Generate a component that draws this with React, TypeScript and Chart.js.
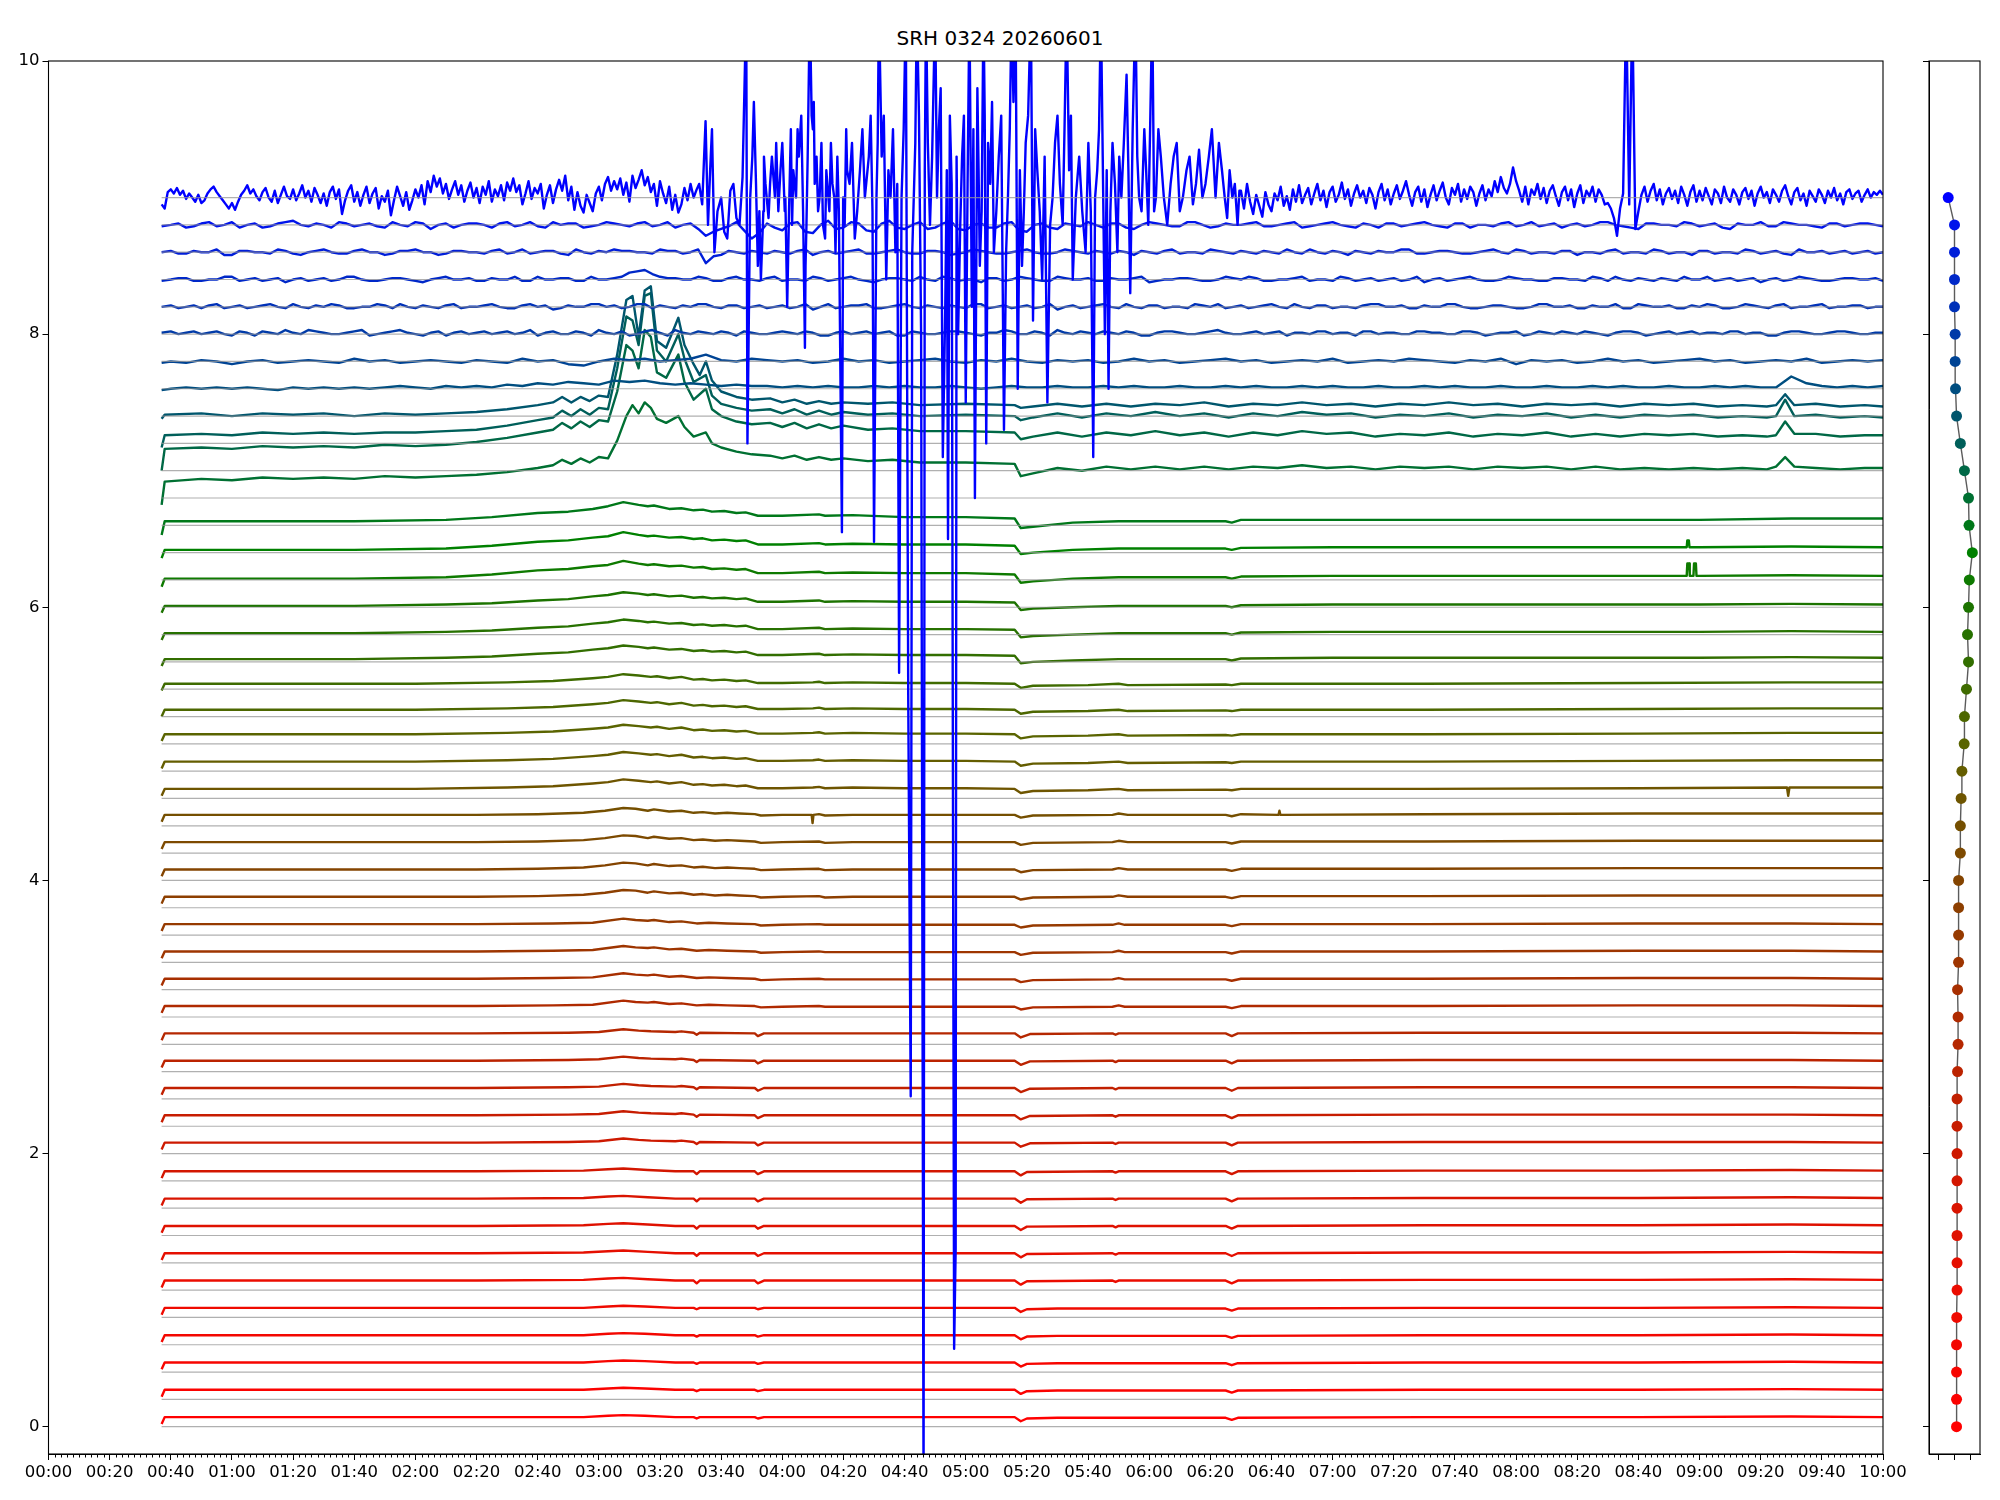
import React, { useEffect, useRef } from 'react';
import { Chart, registerables } from 'chart.js';

Chart.register(...registerables);

const TITLE = 'SRH 0324 20260601';
const X_TICKS = [0, 20, 40, 60, 80, 100, 120, 140, 160, 180, 200, 220, 240, 260, 280, 300, 320, 340, 360, 380, 400, 420, 440, 460, 480, 500, 520, 540, 560, 580, 600];
const Y_TICKS = [0, 2, 4, 6, 8, 10];
const SIDE_X_TICKS = [-0.64, 0, 0.64];
const START_T = 37;
const END_T = 600;

// trace baselines (one per channel, also the y of the dots in the side panel)
const BASELINES = [0, 0.2, 0.4, 0.6, 0.8, 1.0, 1.2, 1.4, 1.6, 1.8, 2.0, 2.2, 2.4, 2.6, 2.8, 3.0, 3.2, 3.4, 3.6, 3.8, 4.0, 4.2, 4.4, 4.6, 4.8, 5.0, 5.2, 5.4, 5.6, 5.8, 6.0, 6.2, 6.4, 6.6, 6.8, 7.0, 7.2, 7.4, 7.6, 7.8, 8.0, 8.2, 8.4, 8.6, 8.8, 9.0];
// x of the dots in the side panel
const SIDE_X = [0.08, 0.08, 0.08, 0.08, 0.09, 0.1, 0.1, 0.1, 0.1, 0.1, 0.1, 0.1, 0.1, 0.12, 0.14, 0.14, 0.12, 0.16, 0.16, 0.16, 0.16, 0.23, 0.23, 0.26, 0.29, 0.38, 0.39, 0.47, 0.55, 0.51, 0.55, 0.58, 0.7, 0.57, 0.55, 0.39, 0.23, 0.08, 0.04, 0.026, 0.026, 0, 0, 0, 0, -0.247];
// level of each trace above its baseline (hundredths)
const LEVELS = [7, 7, 7, 7, 7, 7, 7, 7, 7, 7, 8, 8, 8, 8, 8, 8, 8, 8, 8, 8, 8, 8, 8, 7, 7, 7, 5, 4, 2, 1, 1, 1, 2, 3, 0, 0, 0, 0, 0, 0, 0, 0, 0, 0, 0, 0];

// shapes as [minute, offset(hundredths)] pairs
const G_R1 = [37, -5, 38, 0, 70, 0, 110, 0, 150, 0, 175, 0, 183, 1, 188, 1.5, 195, 1, 205, 0, 211, 0, 212, -1, 213, 0, 231, 0, 232, -1, 234, 0, 260, 0, 300, 0, 316, 0, 318, -3, 320, -1, 330, -0.5, 385, -0.5, 387, -2, 389, -0.5, 450, 0, 520, 0, 570, 0.5, 600, 0];
const G_R2 = [37, -5, 38, 0, 80, 0, 140, 0, 175, 0.5, 183, 1.5, 188, 2, 196, 1, 205, 0, 211, 0, 212, -2, 213, 0, 231, 0, 232, -2, 234, 0, 270, 0, 300, 0, 316, 0, 318, -3, 320, -0.5, 348, 0, 349, -1, 350, 0, 385, 0, 387, -2, 389, 0, 450, 0.5, 520, 0.5, 570, 1, 600, 0.5];
const G_R3 = [37, -5, 38, 0, 80, 0, 140, 0, 170, 0.5, 180, 1, 188, 3, 193, 2, 197, 1.5, 205, 1, 207, 1.5, 211, 0.5, 212, -1, 213, 0.5, 231, 0, 232, -2, 234, 0, 250, 0, 300, 0, 316, 0, 318, -3, 321, -0.5, 348, 0, 349, -1, 350, 0, 385, 0, 387, -2, 389, 0, 450, 0.5, 520, 0.5, 570, 0.5, 600, 0];
const G_B1 = [37, -5, 38, 0, 80, 0, 140, 0, 165, 0.5, 178, 1, 188, 4, 192, 3, 196, 2.5, 198, 3, 203, 1.5, 207, 2, 212, 0.5, 216, 1, 222, 0.5, 231, 0, 233, -1, 240, -0.5, 252, 0, 254, -0.5, 280, -0.5, 316, -0.5, 318, -2.5, 322, -1, 348, -0.5, 350, 0.5, 352, -0.5, 385, -0.5, 387, -1.5, 390, 0, 450, 0, 520, 0.5, 570, 0.5, 600, 0];
const G_B2 = [37, -5, 38, 0, 80, 0, 140, 0, 160, 0.5, 175, 1.5, 182, 3, 188, 5, 192, 4.5, 196, 3, 198, 4, 203, 2.5, 207, 3, 211, 1.5, 214, 2, 218, 1, 222, 1.5, 226, 1, 231, 0.5, 233, -0.5, 240, 0, 252, 0.5, 254, -0.5, 263, 0, 280, 0, 316, 0, 318, -2, 322, -0.5, 348, 0, 350, 1, 353, 0, 385, 0, 387, -1, 390, 0.5, 450, 0.5, 520, 1, 570, 1, 600, 1];
const G_O = [37, -5, 38, 0, 70, 0, 120, 0, 150, 1, 165, 2, 178, 4, 183, 5, 188, 7, 193, 6, 197, 5, 199, 5.5, 203, 4, 207, 5, 211, 3, 214, 3.5, 217, 2.5, 221, 3, 225, 2, 228, 2.5, 232, 0.5, 240, 0.5, 250, 1, 252, 1.5, 254, 0.5, 263, 1, 280, 0.5, 300, 0.5, 316, 0, 318, -3, 322, -1.5, 340, -1, 350, 0, 353, -1, 385, -0.5, 387, -1, 390, 0, 450, 0, 520, 0.5, 570, 1, 600, 1];
const G_G1 = [37, -5, 38, 0, 60, 0, 100, 0, 130, 1, 145, 2, 160, 4, 170, 5, 178, 7, 183, 8, 188, 10, 193, 9, 196, 8, 198, 8.5, 203, 7, 207, 7.5, 211, 6, 214, 6.5, 217, 5.5, 221, 6, 225, 5, 228, 5.5, 232, 3, 240, 3, 252, 4, 254, 3, 263, 3.5, 280, 3, 300, 3, 316, 2.5, 318, -3, 322, -2, 335, -1, 350, 0, 385, 0, 387, -1, 390, 0.5, 420, 1, 480, 1, 540, 1, 570, 1.5, 600, 1];
const G_G2 = [37, -6, 38, 0, 60, 0, 100, 0, 130, 1, 145, 3, 160, 6, 170, 7, 178, 9, 183, 10, 188, 13, 193, 11, 196, 10, 198, 10.5, 203, 9, 207, 9.5, 211, 8, 214, 8.5, 217, 7, 221, 7.5, 225, 6.5, 228, 7, 232, 4, 240, 4, 252, 5, 254, 4, 263, 4.5, 280, 4, 300, 4, 316, 3, 318, -3, 322, -2, 335, 0, 350, 1, 385, 1, 387, 0, 390, 1.5, 420, 2, 480, 2, 540, 2, 570, 2.5, 600, 2];
const G_66 = [37, -10, 38, 0, 60, 0, 100, 0, 130, 1, 145, 3, 160, 6, 170, 7, 178, 9, 183, 11, 188, 14, 193, 12, 196, 11, 198, 11.5, 203, 9, 207, 9.5, 211, 8, 214, 8.5, 217, 7, 221, 7.5, 225, 6, 228, 6.5, 232, 4, 240, 4, 252, 5, 254, 4, 263, 4.5, 280, 3, 300, 3, 316, 2, 318, -5, 322, -4, 335, -1, 350, 0, 385, 0, 387, -1, 390, 1, 420, 1, 480, 1, 540, 1, 570, 2, 600, 2];
const C68 = [37, -5, 38, 12, 50, 14, 60, 13, 70, 15, 80, 14, 90, 15, 100, 14, 110, 16, 120, 15, 130, 16, 140, 17, 150, 19, 160, 22, 165, 24, 168, 28, 171, 25, 174, 29, 177, 26, 180, 30, 183, 29, 186, 42, 189, 60, 191, 68, 193, 62, 195, 70, 197, 66, 199, 58, 202, 55, 206, 60, 208, 52, 211, 45, 215, 48, 217, 40, 220, 37, 225, 34, 230, 32, 236, 31, 240, 29, 244, 31, 248, 28, 252, 30, 256, 28, 260, 29, 268, 27, 276, 28, 285, 26, 300, 26, 316, 25, 318, 16, 322, 18, 330, 22, 338, 20, 346, 23, 354, 21, 362, 23, 370, 21, 378, 23, 386, 21, 394, 23, 402, 22, 410, 24, 418, 22, 426, 23, 434, 21, 442, 23, 450, 22, 458, 23, 466, 21, 474, 23, 482, 22, 490, 23, 498, 21, 506, 23, 514, 21, 522, 22, 530, 21, 538, 22, 546, 21, 554, 22, 562, 21, 565, 23, 568, 30, 571, 23, 578, 22, 586, 21, 594, 22, 600, 22];
const C70 = [37, 0, 38, 16, 50, 17, 60, 16, 70, 18, 80, 17, 90, 18, 100, 17, 110, 19, 120, 18, 130, 19, 140, 21, 150, 24, 160, 28, 165, 30, 168, 35, 171, 31, 174, 36, 177, 32, 180, 37, 183, 36, 186, 58, 189, 92, 191, 88, 193, 75, 195, 103, 197, 98, 199, 72, 202, 68, 206, 85, 208, 65, 211, 52, 215, 60, 217, 45, 220, 40, 225, 36, 230, 34, 236, 35, 240, 32, 244, 35, 248, 31, 252, 34, 256, 31, 260, 33, 268, 30, 276, 31, 285, 29, 300, 29, 316, 28, 318, 23, 322, 25, 330, 28, 338, 25, 346, 28, 354, 26, 362, 29, 370, 26, 378, 28, 386, 25, 394, 28, 402, 26, 410, 29, 418, 27, 426, 28, 434, 25, 442, 27, 450, 26, 458, 28, 466, 25, 474, 27, 482, 26, 490, 28, 498, 25, 506, 27, 514, 25, 522, 27, 530, 26, 538, 27, 546, 25, 554, 26, 562, 25, 565, 26, 568, 36, 571, 27, 578, 27, 586, 25, 594, 26, 600, 26];
const C72 = [37, -3, 38, 6, 50, 7, 60, 6, 70, 8, 80, 7, 90, 8, 100, 7, 110, 8, 120, 8, 130, 9, 140, 10, 150, 13, 160, 17, 165, 19, 168, 24, 171, 20, 174, 25, 177, 21, 180, 26, 183, 25, 186, 55, 189, 93, 191, 90, 193, 72, 195, 108, 197, 110, 199, 68, 202, 60, 206, 80, 208, 62, 211, 45, 215, 50, 217, 35, 220, 29, 225, 26, 230, 24, 236, 25, 240, 22, 244, 25, 248, 21, 252, 24, 256, 21, 260, 23, 268, 21, 276, 22, 285, 20, 300, 21, 316, 20, 318, 17, 322, 19, 330, 22, 338, 19, 346, 22, 354, 20, 362, 23, 370, 20, 378, 22, 386, 19, 394, 22, 402, 20, 410, 23, 418, 21, 426, 22, 434, 19, 442, 21, 450, 20, 458, 22, 466, 19, 474, 21, 482, 20, 490, 22, 498, 19, 506, 21, 514, 19, 522, 21, 530, 20, 538, 21, 546, 19, 554, 20, 562, 19, 565, 20, 568, 32, 571, 20, 578, 21, 586, 19, 594, 20, 600, 19];
const C74 = [37, -2, 38, 1, 50, 2, 60, 0, 70, 2, 80, 1, 90, 2, 100, 0, 110, 2, 120, 1, 130, 2, 140, 3, 150, 5, 160, 8, 165, 10, 168, 14, 171, 10, 174, 14, 177, 11, 180, 15, 183, 14, 186, 45, 189, 85, 191, 88, 193, 58, 195, 92, 197, 95, 199, 55, 202, 50, 206, 72, 208, 52, 211, 38, 213, 30, 215, 40, 217, 26, 220, 18, 225, 14, 230, 12, 236, 13, 240, 10, 244, 12, 248, 9, 252, 11, 256, 9, 260, 10, 268, 9, 276, 10, 285, 8, 300, 9, 316, 8, 318, 6, 322, 7, 330, 9, 338, 7, 346, 9, 354, 7, 362, 9, 370, 8, 378, 10, 386, 7, 394, 9, 402, 8, 410, 10, 418, 8, 426, 9, 434, 7, 442, 9, 450, 8, 458, 10, 466, 8, 474, 9, 482, 7, 490, 9, 498, 8, 506, 9, 514, 7, 522, 9, 530, 8, 538, 9, 546, 7, 554, 8, 562, 7, 565, 8, 568, 16, 571, 8, 578, 9, 586, 7, 594, 8, 600, 7];

// small glitches on single channels [minute, offset]
const GLITCH_44 = [249.6, 0, 249.9, -6, 250.2, 0, 402.3, 0, 402.6, 3, 402.9, 0];
const GLITCH_46 = [568.6, 1, 569, -5, 569.4, 1];
const GLITCH_62 = [535.8, 2, 536, 11, 536.6, 11, 536.8, 2, 538, 2, 538.2, 11, 538.8, 11, 539, 2];
const GLITCH_64 = [535.8, 2, 536, 7, 536.5, 7, 536.7, 2];

// noisy channels sampled every 5 minutes from 00:40 (hundredths above baseline)
const N76 = [0, 1, 0, 1, 0, 1, 0, -1, 1, 0, 1, 0, 1, 0, 1, 2, 1, 0, 2, 1, 2, 1, 3, 2, 4, 3, 5, 4, 3, 6, 5, 6, 4, 3, 4, 3, 2, 3, 2, 2, 1, 2, 1, 2, 1, 1, 2, 1, 2, 1, 1, 2, 1, 0, 1, 2, 1, 1, 2, 1, 1, 2, 1, 2, 1, 1, 2, 1, 1, 2, 1, 2, 1, 1, 2, 1, 2, 1, 1, 2, 1, 1, 2, 1, 2, 1, 1, 2, 1, 1, 2, 1, 1, 2, 1, 2, 1, 1, 2, 1, 1, 2, 1, 2, 1, 1, 9, 4, 2, 1, 2, 1, 2];
const N78 = [0, -1, 1, 0, -2, 0, 1, -1, 0, 1, 0, -1, 2, 0, 1, -1, 0, 1, 0, -1, 1, 0, -1, 2, 0, 1, -2, -3, 0, 2, 1, 2, 0, 1, 2, 5, 1, 0, 2, 1, 0, 1, -1, 0, 2, 0, 1, -1, 0, 1, 2, 0, -1, 1, 0, 2, 0, -1, 1, 0, 1, -1, 0, 2, 0, 1, -1, 0, 1, 2, 0, 1, -1, 0, 1, 0, 2, -1, 0, 1, 0, 2, 1, 0, -1, 1, 0, 2, -2, 1, 0, 1, -1, 0, 2, 0, 1, -1, 0, 1, 2, 0, 1, -1, 0, 1, 0, 2, -1, 0, 1, 0, 1];
const N80 = [2, 1, 0, 2, -1, 1, 2, 0, 1, 3, 1, 0, 2, -1, 1, 3, 0, 1, -1, 2, 1, 0, 2, 1, -1, 2, 0, 1, 3, 0, -1, 2, 1, 3, 0, 1, 2, -1, 1, 0, 2, 0, 1, -1, 2, 1, 0, 2, -1, 1, 0, 2, 1, -1, 1, 2, 0, 1, 3, 0, 1, 2, 0, 1, -1, 2, 1, 0, 2, 1, 0, 2, 1, -1, 1, 2, 0, 1, 2, 0, 1, 0, 2, 1, 0, 2, -1, 1, 2, 0, 1, 2, 0, 1, -1, 2, 1, 0, 2, 1, 0, 1, 2, 0, 1, -1, 2, 1, 0, 2, 1, 0, 1];
const N82 = [1, 0, -1, 2, 0, -1, 1, 0, 2, -1, 0, 1, -1, 0, 1, 2, -1, 0, 1, -1, 0, 2, -1, 1, 0, -2, 1, 0, 2, 1, 0, 2, 1, -1, 0, 2, -1, 1, 0, -1, 1, 0, -2, 2, 0, 1, -1, 0, 2, -1, 0, 1, -1, 2, 0, -1, 1, 0, -2, 1, 0, 2, -1, 0, 1, -1, 0, 2, 0, -1, 1, 0, 2, -1, 0, 1, -1, 0, 1, 2, 0, -1, 1, 0, 2, -1, 0, 1, -1, 0, 2, 0, -1, 1, 0, -1, 2, 0, 1, -1, 0, 1, -1, 2, 0, 1, -1, 0, 2, 0, 1, -1, 0];
const N84 = [0, 1, -1, 0, 2, 0, -1, 1, 0, -1, 1, 0, 2, -1, 0, 1, -1, 0, 2, 0, -1, 1, 0, -1, 2, 0, 1, -1, 0, 1, 5, 7, 2, 1, 0, 1, -1, 2, 0, 1, -1, 0, 2, -1, 1, 0, -2, 1, 0, 2, -1, 1, 0, -2, 1, 0, 1, -1, 2, 0, 1, -1, 0, 1, -2, 0, 1, 0, -1, 2, 0, 1, -1, 0, 2, 0, -1, 1, 0, -1, 1, 0, -2, 1, 0, 2, -1, 0, 1, 0, -1, 1, 0, 2, -1, 0, 1, -1, 0, 2, 0, -1, 1, 0, -2, 1, 0, 1, -1, 0, 1, 0, -1];
const N86 = [1, -1, 0, 2, -2, 1, 0, 2, -1, 0, 2, -1, 1, 0, -2, 1, 2, 0, -1, 1, 0, 1, -1, 2, 0, 1, -2, 0, 1, 2, 1, 0, 2, 1, 0, -8, -2, 0, 1, -1, 0, 1, -2, 1, 0, 2, -1, 1, 0, -1, 1, -2, 0, 1, -1, 0, 2, -1, 0, 1, -1, 0, 1, -2, 0, 1, -1, 0, 2, 0, 1, -1, 0, 2, -1, 0, 1, -2, 0, 1, 0, 2, -1, 1, 0, -1, 1, 0, 2, -1, 0, 1, -2, 0, 1, -1, 0, 2, -1, 0, 1, -1, 0, 2, -1, 1, -2, 0, 1, 0, -1, 1, 0];
const N88 = [0, -2, 1, -1, 2, 0, -2, 1, 3, -1, 0, 2, -1, 1, -2, 0, 2, -3, 1, 0, 1, -2, 2, 0, -1, 2, 1, -2, 0, 1, -1, 2, 0, -2, 1, -8, -3, 2, -10, 1, -4, 2, -6, 3, -2, 1, -5, 3, -3, 2, -2, 3, -4, 1, -2, 2, -5, 1, -3, 0, 2, -2, 1, -3, 2, 0, -1, 2, -2, 1, 0, 2, -1, 1, -2, 0, 2, -1, 1, -2, 1, 0, 2, -1, 1, -2, 0, 1, -1, 2, 0, -2, 1, 0, 2, -1, -3, 1, 0, 2, -1, 1, -3, 0, 2, -1, 1, 0, -2, 1, 0, 1, -1];
// the same channels in between, every 5 minutes from 00:42:30
const M80 = [0, 2, 1, 0, 2, -1, 1, 3, 0, 2, 0, 1, 3, 0, 2, 1, -1, 2, 1, 0, 2, 1, 0, 3, 1, 0, 2, -1, 1, 2, 0, 3, -1, 1, 2, 0, 1, 2, 0, 1, 1, 2, -1, 1, 0, 2, 1, -1, 2, 0, 1, 2, 0, 1, 3, 0, 2, -1, 1, 2, 0, 1, 2, -1, 1, 2, 0, 1, 3, 0, 1, 0, 2, 1, 0, 2, 1, -1, 2, 1, 0, 2, 1, 0, 2, 1, 0, 1, -1, 2, 0, 1, 2, 0, 1, 2, -1, 1, 0, 2, 1, 0, 2, 1, -1, 1, 2, 0, 1, 2, 0, 1];
const M82 = [-1, 1, 1, -1, 1, 0, 2, -1, 0, 1, 2, -1, 0, 2, -1, 0, 1, -1, 2, 0, 1, 0, -1, 2, 1, -1, 0, 2, 0, -1, 2, -1, 0, 1, 2, 0, 1, -1, 1, 0, -1, 2, 0, -1, 1, 2, -1, 1, 0, 1, -1, 0, 2, -1, 1, 0, -1, 2, 0, -1, 1, 0, 2, -1, 1, 0, -1, 1, 2, 0, -1, 1, 0, 2, -1, 1, 0, -1, 2, 0, 1, -1, 0, 2, 0, -1, 1, 0, -1, 2, 0, 1, -1, 0, 2, -1, 1, 0, -1, 1, 2, -1, 0, 1, -1, 2, 0, 1, -1, 0, 1, 0];
const M84 = [1, -1, 0, 2, -1, 1, 0, -2, 1, 0, -1, 2, 0, -1, 1, 0, -2, 1, 0, 1, -1, 0, 2, -1, 0, 1, -1, 2, 0, 2, 6, 4, 1, 0, 2, -1, 1, 0, -1, 2, 0, -1, 1, 0, 2, -1, 0, 1, -1, 0, 2, -1, 0, 1, -1, 2, 0, -1, 1, 0, -1, 1, 0, 2, -1, 0, 1, -1, 0, 1, 2, -1, 0, 1, -1, 0, 2, -1, 1, 0, -1, 2, 0, -1, 1, 0, -1, 2, 0, -1, 1, 0, -1, 1, 2, -1, 0, 1, -1, 0, 2, 0, -1, 1, 0, -1, 2, 0, -1, 1, 0, 1];
const M86 = [-1, 1, 0, -2, 1, 0, -1, 1, -2, 1, 0, -1, 2, 0, -1, 1, 0, -2, 1, 0, -1, 2, 0, -1, 1, -1, 2, -1, 0, 1, 0, -1, 1, -1, 2, -3, 1, -1, 0, 1, -1, 2, 0, -1, 1, -1, 0, 2, -1, 1, 0, -1, 2, 0, -1, 1, 0, -1, 2, 0, 1, -1, 0, 1, -1, 2, 0, -1, 1, -1, 0, 1, -1, 0, 2, -1, 0, 1, -1, 0, 2, -1, 0, 1, -1, 0, 2, -1, 1, 0, -1, 1, 0, -1, 2, 0, -1, 1, 0, -2, 1, 0, -1, 1, 0, -1, 2, 0, -1, 1, 0, -1];
const M88 = [1, -1, 2, 0, -2, 1, -1, 2, 0, 1, -2, 1, 0, -1, 2, -1, 1, 0, -2, 1, 0, 1, -1, 2, -2, 0, 1, -1, 2, 0, 1, -1, 2, 0, -3, -5, -1, -4, -6, -2, 1, -5, 0, -3, 2, -4, 1, -2, 0, -3, 1, -3, 0, -2, 1, -4, 0, -2, 1, -1, 0, 1, -2, 0, 1, -1, 2, 0, -1, 0, 1, -1, 0, 2, -1, 1, 0, -2, 0, 1, -1, 1, 0, -2, 1, 0, -1, 2, 0, -1, 1, 0, -1, 2, 0, -2, 1, 0, -1, 1, 0, -2, 1, 0, -1, 2, 0, -1, 1, -1, 1, 0];

// top channel: every minute 00:37..03:32 (hundredths around 9.0)
const TOP_CALM_A = [-5, -8, 4, 6, 3, 7, 2, 5, -1, 3, 0, -3, 2, -4, -2, 3, 6, 8, 4, 1, -2, -5, -8, -4, -9, -3, 2, 5, 9, 3, 6, 1, -2, 4, 7, 0, -3, 5, -4, 2, 8, 1, -1, 6, -2, 3, 9, 0, 5, -3, 7, 2, -4, 3, -6, 4, 8, -1, 6, -12, -2, 5, 9, -3, 4, -6, 2, 8, -4, 3, 7, -8, 1, -3, 5, -13, -2, 8, 1, -6, 4, -9, -2, 6, 0, 9, -5, 12, 4, 16, 8, 14, 3, 10, -1, 6, 12, 2, 9, -3, 5, 11, 0, 7, -4, 8, 2, 12, -3, 6, 1, 9, -2, 11, 5, 14, 4, 9, -5, 3, 12, -1, 7, 3, 10, -8, 2, 9, -4, 6, 13, 5, 16, -2, 8, -9, 4, -6, -11, 2, -4, -10, 3, 8, -2, 10, 15, 5, 12, 6, 14, 2, 11, -3, 16, 7, 13, 20, 9, 15, 4, 10, -6, 12, 3, -4, 8, -9, 2, -11, -5, 7, -2, 10, 0, 6];
// top channel in the burst, [minute, value]
const TOP_BURST = [
  212.8, 9.1, 213.8, 8.95, 214.9, 9.56, 215.7, 8.8, 216.4, 9.2, 217, 9.5, 217.8, 8.6, 218.8, 8.9, 220, 9.0, 221, 8.75, 222, 8.7, 223, 9.05, 224, 9.1, 225, 8.85, 226, 8.8, 227, 9.15, 228.2, 10.4, 228.6, 7.2, 229.5, 9.0, 230.7, 9.7, 231.4, 9.1, 232, 8.5, 233, 8.4, 233.8, 8.9, 234.5, 9.1, 235.5, 8.85, 236.6, 9.3, 237.6, 9.0, 238.7, 8.9, 239.4, 9.2, 240, 9.4, 240.8, 8.9, 241.6, 8.2, 242.2, 8.9, 242.8, 9.5, 243.6, 9.2, 244.5, 9.0, 245.4, 9.3, 246.2, 9.6, 246.8, 8.9, 247.4, 7.9, 247.9, 8.8, 248.3, 9.3, 249, 10.4, 249.6, 9.6, 250, 9.5, 250.6, 9.1, 251.2, 9.3, 252.2, 9.0, 253.3, 8.8, 254.4, 9.2, 255.4, 8.9, 256.4, 9.1, 257.4, 8.6, 258.5, 8.9, 259.5, 6.55, 260.4, 8.8, 261.2, 9.2, 262, 9.1, 263.7, 8.7, 265.4, 9.2, 267, 9.0, 268.3, 9.3, 270, 6.48, 270.8, 9.0, 271.6, 10.4, 272.5, 9.3, 274, 8.4, 275.4, 9.0, 277, 8.6, 278.2, 5.52, 279, 9.0, 280.4, 10.4, 281.2, 5.3, 282, 2.42, 283, 9.0, 284, 10.4, 285.4, 8.0, 286.2, -0.5, 287, 10.4, 288.3, 8.8, 290, 10.4, 291.2, 9.5, 292.5, 7.1, 293.3, 8.2, 294.2, 6.5, 295.4, 9.1, 296.2, 0.57, 296.7, 1.3, 297.5, 8.0, 298.8, 9.3, 300, 7.5, 301.2, 10.4, 302, 8.2, 303, 6.8, 303.8, 9.8, 304.6, 8.5, 305.8, 10.4, 306.7, 7.2, 308, 9.1, 309.2, 8.6, 310.8, 9.3, 312.5, 7.3, 313.8, 9.0, 315, 10.4, 316.3, 10.4, 317, 7.6, 318.4, 8.5, 319.6, 9.4, 321.3, 10.4, 322, 8.1, 323.4, 9.2, 325, 8.4, 326.7, 7.5, 328.4, 9.0, 330, 9.6, 331.7, 8.8, 333, 10.4, 333.8, 9.2, 335, 8.4, 337.1, 9.3, 339.2, 8.6, 340.9, 8.9, 341.7, 7.1, 343, 9.2, 344.2, 10.4, 345.5, 8.0, 346.7, 7.6, 348, 9.4, 349.6, 8.6, 350.9, 9.0, 352.6, 9.9, 353.8, 8.3, 355.5, 10.4, 356.7, 9.0, 358.4, 9.5, 359.7, 8.8, 361, 10.4, 362.2, 9.0, 363.8, 9.3, 365.9, 8.8, 368, 9.3, 370, 8.9, 372.2, 9.2, 374.3, 8.95, 376.3, 9.35, 378.4, 9.1, 380.5, 9.5, 381.7, 9.0, 383.8, 9.2, 385.5, 8.85, 387.2, 9.0, 388.9, 8.8,
];
// further samples of the top channel inside the burst, [minute, value]
const TOP_BURST_FILL = [
  230.2, 9.3, 232.5, 8.9, 234, 9.3, 236, 9.1, 238, 9.4, 241, 9.0, 243.2, 8.8, 245, 9.5, 247.6, 8.5, 250.3, 9.7, 251.7, 8.9, 252.8, 9.4, 254, 8.7, 255.9, 9.4, 257, 9.0, 258, 9.3, 259.9, 9.0, 260.9, 9.5, 262.8, 9.4, 264.5, 8.9, 266.2, 9.5, 268.9, 9.6, 269.5, 8.9, 271.2, 9.4, 273.2, 9.6, 274.7, 9.2, 276.2, 9.5, 277.6, 9.1, 279.7, 9.5, 282.5, 8.6, 283.5, 9.4, 284.7, 9.6, 286.6, 9.2, 287.6, 9.4, 289, 9.3, 290.6, 9.0, 291.8, 9.8, 293.8, 9.2, 294.8, 9.6, 297, 9.3, 298.2, 8.8, 299.4, 9.6, 300.6, 9.1, 302.5, 9.5, 304.2, 9.2, 305.2, 8.9, 306.2, 9.6, 307.3, 9.4, 308.6, 9.7, 310, 8.9, 311.6, 9.6, 313.2, 8.6, 314.4, 9.5, 315.6, 9.7, 317.7, 9.2, 319, 8.9, 320.4, 9.6, 322.7, 9.5, 324.2, 8.9, 325.8, 9.3, 327.6, 8.8, 329.2, 9.4, 330.8, 9.1, 332.3, 9.5, 334.4, 9.6, 336, 9.0, 338.1, 8.9, 340.1, 9.4, 342.3, 9.0, 343.6, 9.5, 344.8, 9.3, 346.1, 9.2, 347.3, 8.9, 348.8, 9.1, 350.2, 9.3, 351.7, 9.4, 353.2, 9.2, 354.6, 9.5, 356.1, 9.3, 357.5, 8.9, 359, 9.2, 360.3, 9.5, 361.6, 8.9, 363, 9.5, 364.8, 9.0, 367, 9.1, 369, 9.4, 371, 9.0, 373.2, 9.3, 375.3, 9.1, 377.4, 9.0, 379.5, 9.3, 382.8, 9.4, 384.7, 9.0, 386.3, 9.2, 388, 9.1, 389.5, 9.05,
];
// top channel: every minute 06:30..10:00 (hundredths around 9.0)
const TOP_CALM_B = [5, -8, 10, -3, -12, 2, -6, -14, 4, -5, -10, 3, -2, 8, -6, 1, -9, 6, -3, 9, -4, 2, 7, -5, 3, 10, -2, 5, -7, 4, 8, -3, 2, 11, -1, 6, -6, 3, 9, 0, 5, -4, 7, 2, -8, 4, 10, -2, 6, -5, 3, 9, -1, 5, 12, 2, -6, 4, 8, -3, 6, -7, 2, 9, -2, 5, 11, 0, -5, 7, 2, 10, -3, 6, -1, 8, 4, -6, 3, 9, -2, 6, 1, 12, 4, 15, 7, 3, 10, 22, 12, 5, -3, 8, -5, 6, 2, 10, -1, 7, -4, 5, 9, 1, -6, 4, 8, -2, 6, -7, 3, 9, -4, 5, 1, 8, -3, 6, 2, -5, -4, -8, -15, -28, -8, 3, 140, -5, 140, -23, -10, 2, 8, -3, 5, 10, -2, 6, -5, 3, 7, -1, 5, -4, 8, 2, -6, 4, 9, -3, 5, -2, 7, 1, -5, 6, 3, -4, 8, 0, -3, 6, 2, -5, 4, 7, -1, 5, -6, 3, 8, 0, 4, -4, 6, 2, -3, 5, 9, 1, -5, 4, 7, -2, 3, -6, 5, 1, -3, 6, 2, -4, 5, 0, 7, -2, 3, -5, 4, 6, -1, 3, 5, -3, 2, 6, 0, 4, 2, 5, 2];

const KNOT_SHAPES: any[] = [G_R1, G_R1, G_R1, G_R1, G_R1, G_R2, G_R2, G_R2, G_R2, G_R2, G_R3, G_R3, G_R3, G_R3, G_R3, G_B1, G_B1, G_B1, G_B1, G_B2, G_B2, G_B2, G_B2, G_O, G_O, G_O, G_O, G_O, G_G1, G_G1, G_G1, G_G2, G_G2, G_66, C68, C70, C72, C74];
const GRID_SHAPES = [N76, N78, N80, N82, N84, N86, N88];
const MID_SHAPES: any[] = [null, null, M80, M82, M84, M86, M88];
const GLITCHES: Record<number, number[]> = { 22: GLITCH_44, 23: GLITCH_46, 31: GLITCH_62, 32: GLITCH_64 };
const GRID_T = Array.from({ length: 113 }, (_, k) => 40 + 5 * k);
const MID_T = Array.from({ length: 112 }, (_, k) => 42.5 + 5 * k);

// colour stops by baseline value
const COLOR_STOPS = [
  [0.0, 255, 0, 0], [1.0, 235, 12, 0], [2.0, 205, 25, 0], [3.0, 175, 42, 0], [3.6, 150, 58, 0],
  [4.0, 132, 68, 0], [4.6, 110, 85, 0], [5.0, 90, 100, 0], [5.6, 50, 110, 0], [6.0, 28, 115, 0],
  [6.4, 0, 128, 0], [6.8, 0, 112, 50], [7.2, 0, 95, 90], [7.6, 0, 78, 128], [8.0, 0, 58, 168],
  [8.4, 0, 40, 200], [8.8, 0, 20, 235], [9.0, 0, 0, 255],
];

function colorFor(v: number) {
  for (let k = 0; k < COLOR_STOPS.length - 1; k++) {
    const a = COLOR_STOPS[k], b = COLOR_STOPS[k + 1];
    if (v <= b[0] + 1e-9) {
      const f = (v - a[0]) / (b[0] - a[0]);
      const c = [1, 2, 3].map((j) => Math.round(a[j] + (b[j] - a[j]) * f));
      return `rgb(${c[0]},${c[1]},${c[2]})`;
    }
  }
  return 'rgb(0,0,255)';
}

function pairs(flat: number[]) {
  const out: number[][] = [];
  for (let k = 0; k < flat.length; k += 2) out.push([flat[k], flat[k + 1]]);
  return out;
}

function tracePoints(i: number) {
  const base = BASELINES[i];
  if (i === BASELINES.length - 1) {
    const pts: number[][] = [];
    TOP_CALM_A.forEach((v, k) => pts.push([START_T + k, base + v / 100]));
    pairs(TOP_BURST).forEach((p) => pts.push(p));
    pairs(TOP_BURST_FILL).forEach((p) => pts.push(p));
    TOP_CALM_B.forEach((v, k) => pts.push([390 + k, base + v / 100]));
    pts.sort((a, b) => a[0] - b[0]);
    return pts.map(([t, v]) => ({ x: t, y: v }));
  }
  if (i >= KNOT_SHAPES.length) {
    const j = i - KNOT_SHAPES.length;
    const vals = GRID_SHAPES[j];
    const ps: number[][] = [[START_T, vals[0] - 1]];
    vals.forEach((v: number, k: number) => ps.push([GRID_T[k], v]));
    const mids = MID_SHAPES[j];
    if (mids) mids.forEach((v: number, k: number) => ps.push([MID_T[k], v]));
    ps.sort((a, b) => a[0] - b[0]);
    return ps.map(([t, o]) => ({ x: t, y: base + o / 100 }));
  }
  let ps = pairs(KNOT_SHAPES[i]);
  if (GLITCHES[i]) ps = ps.concat(pairs(GLITCHES[i]));
  ps.sort((a, b) => a[0] - b[0]);
  return ps.map(([t, o]) => ({ x: t, y: base + (LEVELS[i] + o) / 100 }));
}

function hhmm(v: number) {
  const h = Math.floor(v / 60);
  const m = Math.round(v % 60);
  return `${String(h).padStart(2, '0')}:${String(m).padStart(2, '0')}`;
}

const FONT = { family: 'DejaVu Sans', size: 16.5 };

const framePlugin = {
  id: 'frame',
  afterDraw(chart: any) {
    const { ctx, chartArea: a } = chart;
    ctx.save();
    ctx.strokeStyle = '#000';
    ctx.lineWidth = 1.1;
    ctx.strokeRect(a.left, a.top, a.right - a.left, a.bottom - a.top);
    ctx.restore();
  },
};

const MINOR_STEP = 2;
const minorTickPlugin = {
  id: 'minorTicks',
  afterDraw(chart: any) {
    const { ctx, chartArea: a, scales } = chart;
    const x = scales.x;
    ctx.save();
    ctx.strokeStyle = '#000';
    ctx.lineWidth = 1;
    for (let m = 0; m <= END_T; m += MINOR_STEP) {
      if (m % 20 === 0) continue;
      const px = Math.round(x.getPixelForValue(m)) + 0.5;
      ctx.beginPath();
      ctx.moveTo(px, a.bottom);
      ctx.lineTo(px, a.bottom + 3.5);
      ctx.stroke();
    }
    ctx.restore();
  },
};

function axisCommon() {
  return {
    grid: { drawOnChartArea: false, drawTicks: true, tickLength: 6, color: '#000', lineWidth: 1 },
    border: { display: true, color: '#000', width: 1 },
  };
}

export default function App() {
  const mainRef = useRef<HTMLCanvasElement>(null);
  const sideRef = useRef<HTMLCanvasElement>(null);

  useEffect(() => {
    const datasets: any[] = [];
    BASELINES.forEach((b, i) => {
      datasets.push({
        data: tracePoints(i),
        borderColor: colorFor(b),
        borderWidth: 2.4,
        pointRadius: 0,
        tension: 0,
        borderJoinStyle: 'round',
        clip: 0,
        order: -(2 * i),
      });
      datasets.push({
        data: [{ x: START_T, y: b }, { x: END_T, y: b }],
        borderColor: 'rgba(150,150,150,0.75)',
        borderWidth: 1.2,
        pointRadius: 0,
        clip: 0,
        order: -(2 * i + 1),
      });
    });

    const main = new Chart(mainRef.current as HTMLCanvasElement, {
      type: 'line',
      data: { datasets },
      options: {
        animation: false,
        responsive: false,
        devicePixelRatio: 1,
        events: [],
        layout: { padding: { left: 0, right: 117, top: 61, bottom: 6 } },
        plugins: { legend: { display: false }, tooltip: { enabled: false }, title: { display: false } },
        scales: {
          x: {
            type: 'linear',
            min: 0,
            max: END_T,
            afterBuildTicks: (s: any) => { s.ticks = X_TICKS.map((v) => ({ value: v })); },
            ticks: { callback: (v: any) => hhmm(Number(v)), color: '#000', font: FONT, maxRotation: 0, autoSkip: false, padding: 3 },
            afterFit: (s: any) => { s.height = 40; },
            ...axisCommon(),
          },
          y: {
            type: 'linear',
            min: -0.2,
            max: 10,
            afterBuildTicks: (s: any) => { s.ticks = Y_TICKS.map((v) => ({ value: v })); },
            ticks: { callback: (v: any) => String(v), color: '#000', font: FONT, padding: 3 },
            afterFit: (s: any) => { s.width = 48.5; },
            ...axisCommon(),
          },
        },
      } as any,
      plugins: [framePlugin, minorTickPlugin],
    } as any);

    const sidePts = BASELINES.map((b, i) => ({ x: SIDE_X[i], y: b }));
    const side = new Chart(sideRef.current as HTMLCanvasElement, {
      type: 'line',
      data: {
        datasets: [
          { data: sidePts, borderColor: 'rgba(50,50,50,0.8)', borderWidth: 1.4, pointRadius: 0, tension: 0, order: 1 },
          {
            data: sidePts,
            showLine: false,
            pointRadius: 5.5,
            pointBorderWidth: 0,
            pointBackgroundColor: BASELINES.map((b) => colorFor(b)),
            pointBorderColor: BASELINES.map((b) => colorFor(b)),
            order: 0,
          },
        ],
      },
      options: {
        animation: false,
        responsive: false,
        devicePixelRatio: 1,
        events: [],
        layout: { padding: { left: 0, right: 20, top: 61, bottom: 6 } },
        plugins: { legend: { display: false }, tooltip: { enabled: false } },
        scales: {
          x: {
            type: 'linear',
            min: -1,
            max: 1,
            afterBuildTicks: (s: any) => { s.ticks = SIDE_X_TICKS.map((v) => ({ value: v })); },
            ticks: { callback: () => '', font: FONT },
            afterFit: (s: any) => { s.height = 40; },
            ...axisCommon(),
          },
          y: {
            type: 'linear',
            min: -0.2,
            max: 10,
            afterBuildTicks: (s: any) => { s.ticks = Y_TICKS.map((v) => ({ value: v })); },
            ticks: { callback: () => '', font: FONT },
            afterFit: (s: any) => { s.width = 29; },
            ...axisCommon(),
          },
        },
      } as any,
      plugins: [framePlugin],
    } as any);

    return () => {
      main.destroy();
      side.destroy();
    };
  }, []);

  return (
    <div style={{ position: 'absolute', left: 0, top: 0, width: 2000, height: 1500, background: '#fff' }}>
      <div style={{ position: 'absolute', left: 0, top: 26, width: 2000, textAlign: 'center', fontFamily: 'DejaVu Sans', fontSize: 20, lineHeight: '24px', color: '#000' }}>{TITLE}</div>
      <canvas ref={mainRef} width={2000} height={1500} style={{ position: 'absolute', left: 0, top: 0, width: 2000, height: 1500 }} />
      <canvas ref={sideRef} width={100} height={1500} style={{ position: 'absolute', left: 1900, top: 0, width: 100, height: 1500 }} />
    </div>
  );
}
